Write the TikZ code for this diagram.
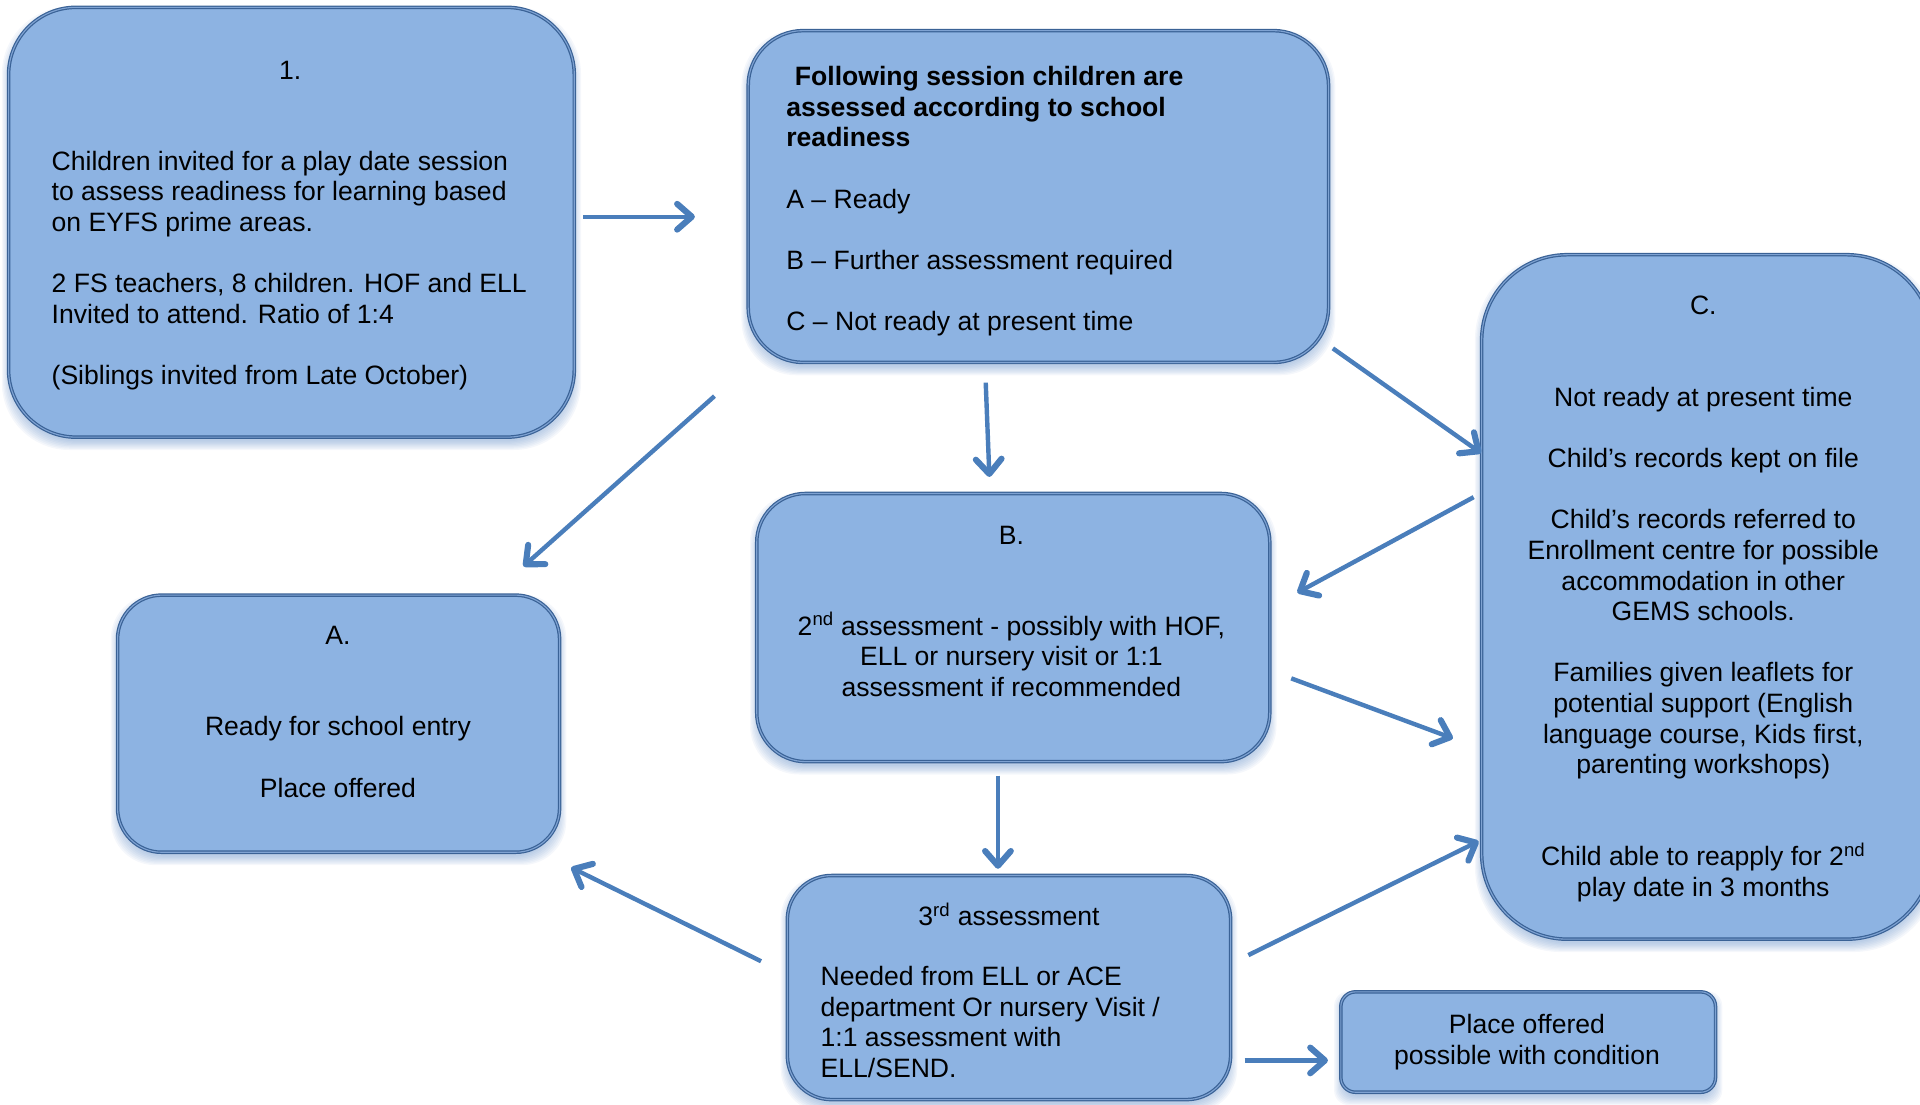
\documentclass[tikz,border=0pt]{standalone}
\usepackage{fontspec}
\setmainfont{Liberation Sans}
\usetikzlibrary{arrows.meta,calc}
\definecolor{boxfill}{HTML}{8DB3E2}
\definecolor{boxline}{HTML}{3A6296}
\definecolor{boxdbl}{HTML}{7FA3D3}
\definecolor{arrowcol}{HTML}{4A7EBB}
\definecolor{shadowcol}{HTML}{4F7FC0}
\pgfdeclarelayer{shadowlayer}
\pgfsetlayers{shadowlayer,main}
\tikzset{
  box/.style={rectangle, fill=boxfill, draw=boxline, line width=1pt,
    double=boxdbl, double distance=0.9pt, inner sep=0pt},
  txt/.style={inner sep=0pt, font=\fontsize{21.7}{25}\selectfont, text=black},
  arr/.style={draw=arrowcol, line width=3.6pt, -{Straight Barb[length=12pt,width=21pt,line width=5pt,round]}},
  shadowpiece/.style={fill=shadowcol, fill opacity=0.06},
}
\begin{document}
\begin{tikzpicture}[x=1pt, y=-1pt]
\useasboundingbox (0,0) rectangle (1568,902);
% boxes
\node[box, rounded corners=55pt, minimum width=462pt, minimum height=351pt] (n1) at (238,181.5) {};
\node[box, rounded corners=45pt, minimum width=474pt, minimum height=271pt] (nF) at (848,160.5) {};
\node[box, rounded corners=70pt, minimum width=368pt, minimum height=559pt] (nC) at (1394,487.5) {};
\node[box, rounded corners=40pt, minimum width=419pt, minimum height=219pt] (nB) at (827.5,512.5) {};
\node[box, rounded corners=36pt, minimum width=361pt, minimum height=210pt] (nA) at (276.5,591) {};
\node[box, rounded corners=36pt, minimum width=362pt, minimum height=183pt] (n3) at (824,806.5) {};
\node[box, rounded corners=12pt, minimum width=306pt, minimum height=82pt] (nP) at (1248,851) {};
% soft shadows
\begin{pgfonlayer}{shadowlayer}
\foreach \n/\r in {n1/55,nF/45,nC/70,nB/40,nA/36,n3/36,nP/12}{
  \foreach \k in {0,...,7}{
    \fill[shadowpiece, rounded corners=\r pt] ($(\n.north west)+(2-\k,7-\k)$) rectangle ($(\n.south east)+(\k-2,3+\k)$);
  }
}
\end{pgfonlayer}
% texts
\node[txt, anchor=base] (t1num) at (237,64.8) {1.};
\node[txt, anchor=north west, align=left] (t1body) at (42,123) {Children invited for a play date session\\ to assess readiness for learning based\\ on EYFS prime areas.\\[25pt] 2 FS teachers, 8 children. HOF and ELL\\ Invited to attend. Ratio of 1:4\\[25pt] (Siblings invited from Late October)};
\node[txt, anchor=north west, align=left] (tF) at (642,54) {\textbf{\hspace*{7pt}Following session children are}\\ \textbf{assessed according to school}\\ \textbf{readiness}\\[25pt] A – Ready\\[25pt] B – Further assessment required\\[25pt] C – Not ready at present time};
\node[txt, anchor=base] (tCnum) at (1391,256.8) {C.};
\node[txt, anchor=north, align=center] (tC) at (1391,316) {Not ready at present time\\[25pt] Child’s records kept on file\\[25pt] Child’s records referred to\\ Enrollment centre for possible\\ accommodation in other\\ GEMS schools.\\[25pt] Families given leaflets for\\ potential support (English\\ language course, Kids first,\\ parenting workshops)\\[50pt] Child able to reapply for 2\textsuperscript{nd}\\ play date in 3 months};
\node[txt, anchor=base] (tBnum) at (826,444.8) {B.};
\node[txt, anchor=north, align=center] (tB) at (826,500) {2\textsuperscript{nd} assessment - possibly with HOF,\\ ELL or nursery visit or 1:1\\ assessment if recommended};
\node[txt, anchor=base] (tAnum) at (276,526.3) {A.};
\node[txt, anchor=north, align=center] (tA) at (276,585) {Ready for school entry\\[25pt] Place offered};
\node[txt, anchor=base] (t3num) at (824,755.8) {3\textsuperscript{rd} assessment};
\node[txt, anchor=north west, align=left] (t3) at (670,789) {Needed from ELL or ACE\\ department Or nursery Visit /\\ 1:1 assessment with\\ ELL/SEND.};
\node[txt, anchor=north, align=center] (tP) at (1247,828) {Place offered\\ possible with condition};
% arrows
\draw[arr] ($(n1.east)+(7,-4.5)$) -- ($(nF.west)+(-43,16.5)$);
\draw[arr] ($(nF.south west)+(-27,27)$) -- ($(nA.north east)+(-30,-23)$);
\draw[arr] ($(nF.south)+(-43,16)$) -- ($(nB.north)+(-19.5,-13)$);
\draw[arr] ($(nF.south east)+(3,-12)$) -- ($(nC.west)+(0,-117.5)$);
\draw[arr] ($(nC.west)+(-6,-81.5)$) -- ($(nB.east)+(22,-28.5)$);
\draw[arr] ($(nB.east)+(17,41.5)$) -- ($(nC.west)+(-23,115.5)$);
\draw[arr] ($(nB.south)+(-12.5,11)$) -- ($(n3.north)+(-9,-5)$);
\draw[arr] ($(n3.west)+(-21,-21.5)$) -- ($(nA.south east)+(9,12)$);
\draw[arr] ($(n3.east)+(14,-26.5)$) -- ($(nC.west)+(-2,199.5)$);
\draw[arr] ($(n3.east)+(11,59.5)$) -- ($(nP.west)+(-10,15)$);
\end{tikzpicture}
\end{document}
